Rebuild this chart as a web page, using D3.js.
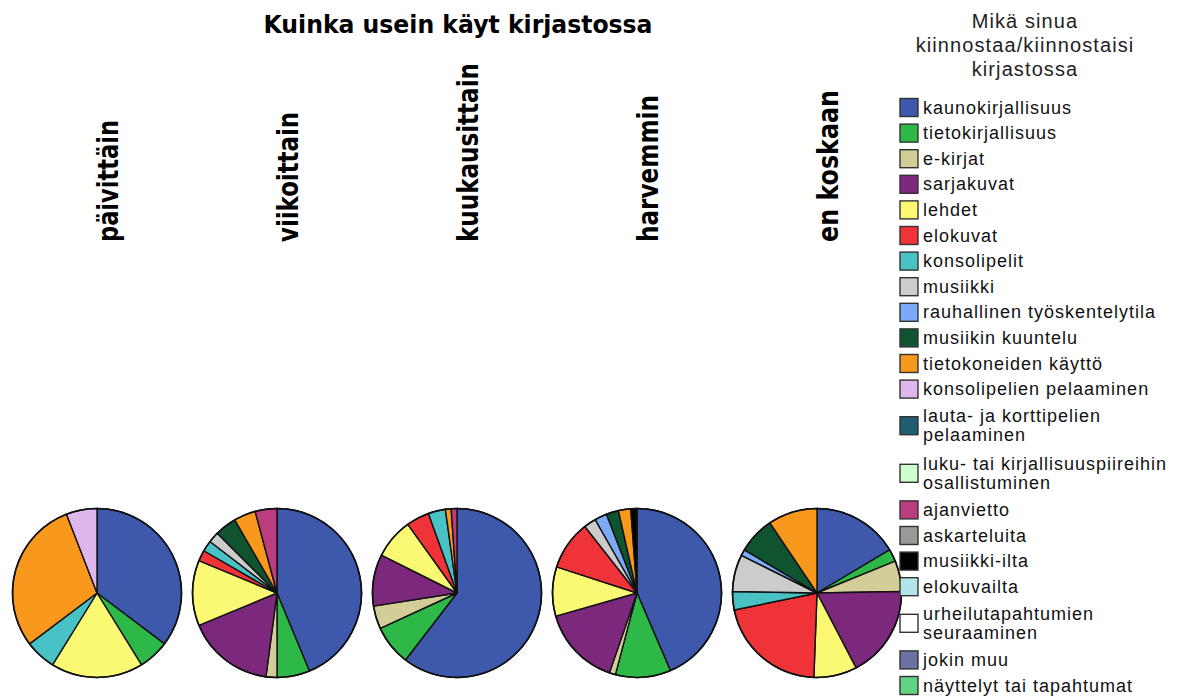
<!DOCTYPE html>
<html>
<head>
<meta charset="utf-8">
<script src="https://cdn.jsdelivr.net/npm/d3@7"></script>
<style>
  html, body { margin: 0; padding: 0; background: #fff; }
  svg { display: block; }
</style>
</head>
<body>
<svg id="chart" width="1180" height="697"></svg>
<script>
// ---- data ----
const chartTitle = "Kuinka usein käyt kirjastossa";
const legendTitle = ["Mikä sinua", "kiinnostaa/kiinnostaisi", "kirjastossa"];
const frequencies = ["päivittäin", "viikoittain", "kuukausittain", "harvemmin", "en koskaan"];
const categories = [
  "kaunokirjallisuus", "tietokirjallisuus", "e-kirjat", "sarjakuvat", "lehdet",
  "elokuvat", "konsolipelit", "musiikki", "rauhallinen työskentelytila", "musiikin kuuntelu",
  "tietokoneiden käyttö", "konsolipelien pelaaminen", "lauta- ja korttipelien\npelaaminen",
  "luku- tai kirjallisuuspiireihin\nosallistuminen", "ajanvietto", "askarteluita", "musiikki-ilta",
  "elokuvailta", "urheilutapahtumien\nseuraaminen", "jokin muu", "näyttelyt tai tapahtumat"
];
const colors = [
  "#3E58AC", "#2EB848", "#D3CE97", "#7C287D", "#FBF873",
  "#EF3338", "#48C2C5", "#CCCCCC", "#7BAAF7", "#0F5331",
  "#F8981D", "#DFB6EE", "#1F5E72", "#CFFECF", "#BC3D7F",
  "#999999", "#000000", "#B2E4E8", "#FFFFFF", "#6D70A2", "#63D282"
];
const paivittain   = [6, 1, 0, 0, 3, 0, 1, 0, 0, 0, 5, 1, 0, 0, 0, 0, 0, 0, 0, 0, 0];
const viikoittain  = [21, 3, 1, 8, 6, 1, 1, 1, 0, 2, 2, 0, 0, 0, 2, 0, 0, 0, 0, 0, 0];
const kuukausittain= [55, 7, 4, 9, 7, 4, 3, 0, 0, 0, 1, 0, 0, 0, 1, 0, 0, 0, 0, 0, 0];
const harvemmin    = [37, 9, 1, 13, 8, 8, 0, 2, 2, 2, 2, 0, 0, 0, 0, 0, 1, 0, 0, 0, 0];
const enKoskaan    = [14, 2, 5, 15, 7, 18, 3, 6, 1, 6, 8, 0, 0, 0, 0, 0, 0, 0, 0, 0, 0];
const seriesValues = [paivittain, viikoittain, kuukausittain, harvemmin, enKoskaan];

// ---- layout ----
const svg = d3.select("#chart");
svg.append("rect").attr("width", 1180).attr("height", 697).attr("fill", "#fff");

const xPos = d3.scalePoint().domain(frequencies).range([97, 817]);
const pieY = 593, radius = 84.5;
const color = d3.scaleOrdinal().domain(categories).range(colors);

// title
svg.append("text")
  .attr("x", 458).attr("y", 33)
  .attr("text-anchor", "middle")
  .attr("font-family", "DejaVu Sans")
  .attr("font-weight", "bold")
  .attr("font-size", 24)
  .attr("textLength", 389)
  .attr("lengthAdjust", "spacingAndGlyphs")
  .attr("fill", "#000")
  .text(chartTitle);

// column labels
const labelLen = { "päivittäin": 122, "viikoittain": 130, "kuukausittain": 179, "harvemmin": 147, "en koskaan": 152 };
frequencies.forEach(f => {
  const bx = xPos(f) + 21;
  svg.append("text")
    .attr("transform", `translate(${bx},242) rotate(-90)`)
    .attr("font-family", "DejaVu Sans")
    .attr("font-weight", "bold")
    .attr("font-size", 29)
    .attr("textLength", labelLen[f])
    .attr("lengthAdjust", "spacingAndGlyphs")
    .attr("fill", "#000")
    .text(f);
});

// pies
const pie = d3.pie().sort(null).value(d => d.v);
const arc = d3.arc().innerRadius(0).outerRadius(radius);
frequencies.forEach((f, i) => {
  const data = categories.map((c, k) => ({ c, v: seriesValues[i][k] })).filter(d => d.v > 0);
  const g = svg.append("g").attr("transform", `translate(${xPos(f)},${pieY})`);
  g.selectAll("path").data(pie(data)).join("path")
    .attr("d", arc)
    .attr("fill", d => color(d.data.c))
    .attr("stroke", "#111")
    .attr("stroke-width", 1.4)
    .attr("stroke-linejoin", "round");
  g.append("circle").attr("r", radius).attr("fill", "none").attr("stroke", "#111").attr("stroke-width", 1.6);
});

// legend title
legendTitle.forEach((t, i) => {
  svg.append("text")
    .attr("x", 1025).attr("y", 28 + i * 24)
    .attr("text-anchor", "middle")
    .attr("font-family", "Liberation Sans")
    .attr("font-size", 20)
    .attr("letter-spacing", 1.1)
    .attr("fill", "#222")
    .text(t);
});

// legend items
const lg = svg.append("g");
let y = 107.5, prevLines = 1;
categories.forEach((c, i) => {
  const lines = c.split("\n");
  if (i > 0) {
    y += 25.6 + (prevLines - 1) * 9.5 + (lines.length - 1) * 9.5
      + (prevLines > 1 ? 1.5 : 0) + (lines.length > 1 ? 1.5 : 0);
  }
  lg.append("rect")
    .attr("x", 900).attr("y", y - 9).attr("width", 18).attr("height", 18)
    .attr("fill", color(c)).attr("stroke", "#333").attr("stroke-width", 1.4);
  lines.forEach((ln, j) => {
    const ly = y + (j - (lines.length - 1) / 2) * 19;
    lg.append("text")
      .attr("x", 923).attr("y", ly + 6)
      .attr("font-family", "Liberation Sans")
      .attr("font-size", 18)
      .attr("letter-spacing", 1)
      .attr("fill", "#111")
      .text(ln);
  });
  prevLines = lines.length;
});
</script>
</body>
</html>
